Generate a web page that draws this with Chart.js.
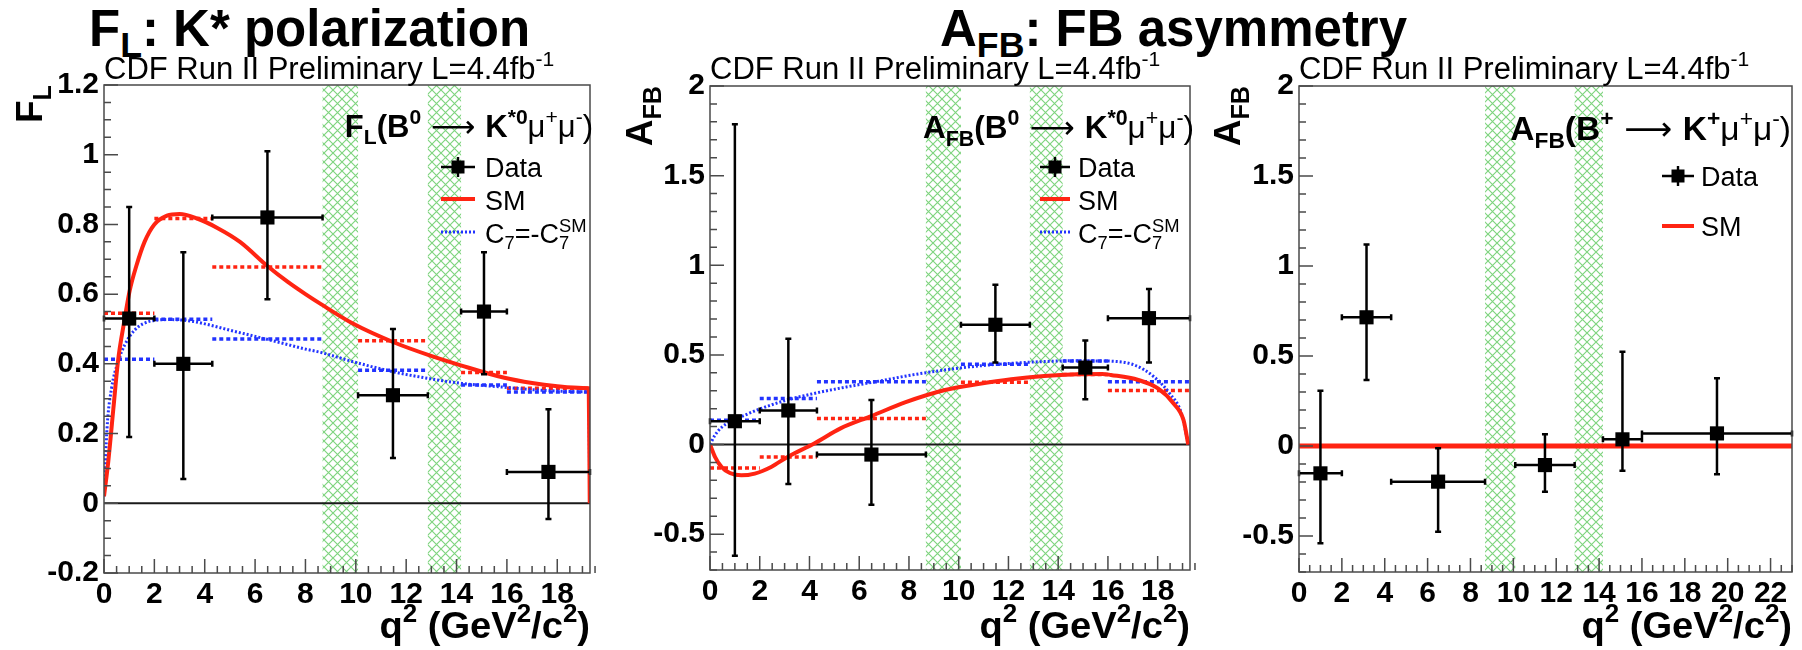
<!DOCTYPE html>
<html>
<head>
<meta charset="utf-8">
<script src="https://cdn.jsdelivr.net/npm/chart.js@4.4.1/dist/chart.umd.min.js"></script>
<style>
  html, body { margin: 0; padding: 0; background: #fff; }
  body { width: 1802px; height: 650px; position: relative; overflow: hidden;
         font-family: 'Liberation Sans', Arial, Helvetica, sans-serif; }
  .pane { position: absolute; top: 0; height: 650px; }
  .headline { position: absolute; font-weight: bold; font-size: 51px; line-height: 51px;
              color: #000; white-space: nowrap; }
  .headline sub { font-size: 70%; vertical-align: -11px; line-height: 0; }
</style>
</head>
<body>
<div class="headline" style="left:89px; top:3px;">F<sub>L</sub>: K* polarization</div>
<div class="headline" style="left:940px; top:3px;">A<sub>FB</sub>: FB asymmetry</div>
<div class="pane" style="left:0px; width:600px;"><canvas id="fl"></canvas></div>
<div class="pane" style="left:600px; width:600px;"><canvas id="afbKst"></canvas></div>
<div class="pane" style="left:1200px; width:602px;"><canvas id="afbK"></canvas></div>
<script>
const FONT = "'Liberation Sans', Arial, Helvetica, sans-serif";

// ---- q² binning (GeV²/c²) ----
const binLo     = [0.0, 2.0, 4.3, 10.09, 14.18, 16.0];
const binHiKst  = [2.0, 4.3, 8.68, 12.86, 16.0, 19.3];
const binHiK    = [2.0, 4.3, 8.68, 12.86, 16.0, 23.0];
const binMidKst = [1.0, 3.15, 6.49, 11.475, 15.09, 17.65];
const binMidK   = [1.0, 3.15, 6.49, 11.475, 15.09, 19.5];

// charmonium veto windows (J/psi, psi(2S))
const vetoLo = [8.68, 12.86];
const vetoHi = [10.09, 14.18];

// ---- F_L(B0 -> K*0 mu mu) ----
const flVal   = [0.53, 0.40, 0.82, 0.31, 0.55, 0.09];
const flErrUp = [0.32, 0.32, 0.19, 0.19, 0.17, 0.18];
const flErrDn = [0.34, 0.33, 0.235, 0.18, 0.18, 0.135];
const flSmBin   = [0.545, 0.817, 0.678, 0.466, 0.375, 0.330];
const flFlipBin = [0.413, 0.528, 0.471, 0.382, 0.339, 0.319];
const flSmQ = [0, 0.17, 0.37, 0.56, 0.8, 1.02, 1.28, 1.61, 2.0, 2.5, 3.0, 3.7, 4.5, 5.4, 6.5, 7.3, 8.0, 8.6, 9.9, 11.5, 12.9, 14.2, 15.9, 17.0, 18.0, 19.0, 19.25, 19.29];
const flSmV = [0.02, 0.12, 0.27, 0.41, 0.52, 0.61, 0.68, 0.75, 0.80, 0.825, 0.83, 0.817, 0.79, 0.75, 0.68, 0.635, 0.60, 0.572, 0.515, 0.462, 0.425, 0.395, 0.36, 0.345, 0.336, 0.331, 0.33, 0.0];
const flFlipQ = [0, 0.12, 0.3, 0.56, 0.82, 1.22, 1.87, 2.65, 3.44, 4.22, 5.14, 6.05, 7.1, 7.9, 8.6, 9.9, 11.5, 12.9, 14.2, 15.9, 17.0, 18.0, 19.0, 19.25, 19.29];
const flFlipV = [0.02, 0.215, 0.33, 0.406, 0.454, 0.497, 0.523, 0.527, 0.523, 0.511, 0.494, 0.478, 0.459, 0.444, 0.433, 0.406, 0.377, 0.358, 0.344, 0.333, 0.326, 0.322, 0.32, 0.32, 0.0];

// ---- A_FB(B0 -> K*0 mu mu) ----
const afbKstVal   = [0.13, 0.19, -0.056, 0.668, 0.429, 0.705];
const afbKstErrUp = [1.657, 0.40, 0.304, 0.223, 0.151, 0.162];
const afbKstErrDn = [0.75, 0.41, 0.28, 0.211, 0.176, 0.248];
const afbKstSmBin   = [-0.131, -0.069, 0.145, 0.347, 0.39, 0.302];
const afbKstFlipBin = [0.136, 0.257, 0.35, 0.448, 0.466, 0.35];
const afbKstSmQ = [0, 0.2, 0.46, 0.8, 1.26, 1.8, 2.46, 3.12, 4.19, 5.25, 6.51, 7.84, 9.45, 10.78, 12.11, 13.44, 14.77, 15.77, 16.12, 17.22, 18.01, 18.64, 19.04, 19.23];
const afbKstSmV = [0, -0.069, -0.125, -0.159, -0.172, -0.162, -0.125, -0.069, 0.006, 0.09, 0.16, 0.235, 0.304, 0.337, 0.364, 0.382, 0.392, 0.394, 0.388, 0.36, 0.313, 0.229, 0.136, 0.0];
const afbKstFlipQ = [0, 0.2, 0.46, 0.86, 1.4, 2.06, 2.99, 4.19, 5.52, 6.85, 8.12, 9.45, 10.78, 12.11, 13.44, 14.77, 15.77, 16.12, 17.06, 17.85, 18.48, 18.96, 19.23];
const afbKstFlipV = [0, 0.052, 0.095, 0.13, 0.164, 0.201, 0.244, 0.285, 0.322, 0.355, 0.388, 0.416, 0.438, 0.453, 0.463, 0.468, 0.466, 0.465, 0.444, 0.378, 0.285, 0.173, 0.0];

// ---- A_FB(B+ -> K+ mu mu) ----
const afbKVal   = [-0.152, 0.715, -0.198, -0.106, 0.037, 0.07];
const afbKErrUp = [0.459, 0.405, 0.185, 0.171, 0.487, 0.306];
const afbKErrDn = [0.388, 0.348, 0.278, 0.148, 0.174, 0.227];
const afbKSmQ = [0, 23];
const afbKSmV = [0, 0];

// ---- axis ticks ----
const xTicksKst = [0, 2, 4, 6, 8, 10, 12, 14, 16, 18];
const xTicksK   = [0, 2, 4, 6, 8, 10, 12, 14, 16, 18, 20, 22];
const yTicksFl  = [-0.2, 0, 0.2, 0.4, 0.6, 0.8, 1, 1.2];
const yTicksAfb = [-0.5, 0, 0.5, 1, 1.5, 2];

const RED = '#ff2412';
const BLUE = '#2233ff';
const YW = 90, XH = 50;

function pts(xs, ys) { return xs.map((x, i) => ({ x, y: ys[i] })); }
function steps(lo, hi, v) {
  const out = [];
  lo.forEach((l, i) => { out.push({ x: l, y: v[i] }, { x: hi[i], y: v[i] }, { x: hi[i], y: null }); });
  return out;
}
function curve(data, color, width, dash, order) {
  return { data, borderColor: color, borderWidth: width, borderDash: dash, pointRadius: 0,
           pointHitRadius: 0, fill: false, cubicInterpolationMode: 'monotone', order };
}
function binned(data, color, order) {
  return { data, borderColor: color, borderWidth: 3.5, borderDash: [4, 3], pointRadius: 0,
           pointHitRadius: 0, fill: false, spanGaps: false, tension: 0, order };
}
function marks(xs, ys, up, dn, lo, hi) {
  return { data: pts(xs, ys), showLine: false, pointStyle: 'rect', pointRadius: 10, pointHoverRadius: 10,
           backgroundColor: '#000', borderColor: '#000', pointBorderWidth: 0, order: 0,
           errUp: up, errDn: dn, xLo: lo, xHi: hi };
}

// ---- rich text with sub/superscripts ----
function partFont(p, size) {
  const s = p.pos ? size * 0.68 : size;
  return (p.b ? 'bold ' : '') + s.toFixed(1) + 'px ' + (p.f || FONT);
}
function richLayout(ctx, parts, size) {
  let x = 0, last = 0; const items = [];
  for (const p of parts) {
    const font = partFont(p, size);
    ctx.font = font;
    const w = ctx.measureText(p.t).width;
    const start = p.stack ? last : x;
    const dy = p.pos === 'sub' ? size * 0.24 : p.pos === 'sup' ? -size * 0.42 : 0;
    items.push({ t: p.t, x: start, dy, font });
    last = start;
    x = Math.max(x, start + w);
  }
  return { items, width: x };
}
function drawRich(ctx, parts, x, y, size, align, sx) {
  sx = sx || 1;
  ctx.save();
  ctx.fillStyle = '#000'; ctx.textBaseline = 'alphabetic'; ctx.textAlign = 'left';
  const L = richLayout(ctx, parts, size);
  const x0 = align === 'right' ? x - L.width * sx : x;
  ctx.translate(x0, y);
  ctx.scale(sx, 1);
  for (const it of L.items) { ctx.font = it.font; ctx.fillText(it.t, it.x, it.dy); }
  ctx.restore();
}

function hatch(ctx) {
  const n = 9;
  const c = document.createElement('canvas'); c.width = n; c.height = n;
  const g = c.getContext('2d');
  g.strokeStyle = '#7ed47e'; g.lineWidth = 1.15;
  g.beginPath();
  g.moveTo(-1, -1); g.lineTo(n + 1, n + 1);
  g.moveTo(n + 1, -1); g.lineTo(-1, n + 1);
  g.stroke();
  return ctx.createPattern(c, 'repeat');
}

function axisTicks(ctx, scale, major, step, horizontal, a) {
  const n = Math.round((scale.max - scale.min) / step);
  ctx.beginPath();
  for (let i = 0; i <= n; i++) {
    const v = scale.min + i * step;
    const isMajor = major.some(m => Math.abs(m - v) < 1e-6);
    const len = isMajor ? 14 : 7;
    const p = scale.getPixelForValue(v);
    if (horizontal) { ctx.moveTo(p, a.bottom); ctx.lineTo(p, a.bottom - len); }
    else { ctx.moveTo(a.left, p); ctx.lineTo(a.left + len, p); }
  }
  ctx.stroke();
}

const B = (t, pos) => ({ t, b: true, pos });
const R = (t, pos) => ({ t, b: false, pos });
const arrow = pad => ({ t: pad + '\u27f6' + pad, b: false, f: "'DejaVu Sans', " + FONT });
const Q2 = [B('q'), B('2', 'sup'), B(' (GeV'), B('2', 'sup'), B('/c'), B('2', 'sup'), B(')')];
const CDF = [R('CDF Run II Preliminary L=4.4fb'), R('-1', 'sup')];
const C7 = [R('C'), R('7', 'sub'), R('=-C'), R('7', 'sub'), { t: 'SM', b: false, pos: 'sup', stack: true }];

const DECOR = {
  fl: {
    zeroLine: true, xMajor: xTicksKst, yMajor: yTicksFl, xMinor: 0.5, yMinor: 0.05,
    yTitle: [B('F'), B('L', 'sub')], yTitleX: 42,
    legendTitle: [B('F'), B('L', 'sub'), B('(B'), B('0', 'sup'), arrow(' '), B('K'), B('*0', 'sup'),
                  R('\u03bc'), R('+', 'sup'), R('\u03bc'), R('-', 'sup'), R(')')],
    legendTitleRight: 593, legendTitleY: 137, legendSize: 31,
    symX0: 441, symX1: 475, textX: 485,
    entries: [
      { kind: 'data', y: 167, base: 177, parts: [R('Data')] },
      { kind: 'sm', y: 199, base: 210, parts: [R('SM')] },
      { kind: 'flip', y: 232, base: 243, parts: C7 }
    ]
  },
  afbKst: {
    zeroLine: true, xMajor: xTicksKst, yMajor: yTicksAfb, xMinor: 0.5, yMinor: 0.1,
    yTitle: [B('A'), B('FB', 'sub')], yTitleX: 52,
    legendTitle: [B('A'), B('FB', 'sub'), B('(B'), B('0', 'sup'), arrow(' '), B('K'), B('*0', 'sup'),
                  R('\u03bc'), R('+', 'sup'), R('\u03bc'), R('-', 'sup'), R(')')],
    legendTitleRight: 594, legendTitleY: 138, legendSize: 31.5,
    symX0: 440, symX1: 470, textX: 478,
    entries: [
      { kind: 'data', y: 167, base: 177, parts: [R('Data')] },
      { kind: 'sm', y: 199, base: 210, parts: [R('SM')] },
      { kind: 'flip', y: 232, base: 243, parts: C7 }
    ]
  },
  afbK: {
    zeroLine: false, xMajor: xTicksK, yMajor: yTicksAfb, xMinor: 0.5, yMinor: 0.1,
    yTitle: [B('A'), B('FB', 'sub')], yTitleX: 40,
    legendTitle: [B('A'), B('FB', 'sub'), B('(B'), B('+', 'sup'), arrow(' '), B('K'), B('+', 'sup'),
                  R('\u03bc'), R('+', 'sup'), R('\u03bc'), R('-', 'sup'), R(')')],
    legendTitleRight: 591, legendTitleY: 140, legendSize: 33.5,
    symX0: 462, symX1: 494, textX: 501,
    entries: [
      { kind: 'data', y: 176, base: 186, parts: [R('Data')] },
      { kind: 'sm', y: 226, base: 236, parts: [R('SM')] }
    ]
  }
};

const decorPlugin = {
  id: 'decor',
  beforeDatasetsDraw(chart) {
    const d = DECOR[chart.canvas.id];
    const { ctx, chartArea: a, scales: { x, y } } = chart;
    ctx.save();
    ctx.beginPath(); ctx.rect(a.left, a.top, a.width, a.height); ctx.clip();
    ctx.fillStyle = hatch(ctx);
    vetoLo.forEach((lo, i) => {
      const x1 = x.getPixelForValue(lo), x2 = x.getPixelForValue(vetoHi[i]);
      ctx.fillRect(x1, a.top, x2 - x1, a.height);
    });
    if (d.zeroLine) {
      const y0 = y.getPixelForValue(0);
      ctx.strokeStyle = '#1a1a1a'; ctx.lineWidth = 2;
      ctx.beginPath(); ctx.moveTo(a.left, y0); ctx.lineTo(a.right, y0); ctx.stroke();
    }
    ctx.restore();
  },
  afterDraw(chart) {
    const d = DECOR[chart.canvas.id];
    const { ctx, chartArea: a, scales: { x, y } } = chart;
    ctx.save();
    // frame and inward ticks
    ctx.strokeStyle = '#4a4a4a'; ctx.lineWidth = 1.5;
    ctx.strokeRect(a.left, a.top, a.width, a.height);
    axisTicks(ctx, x, d.xMajor, d.xMinor, true, a);
    axisTicks(ctx, y, d.yMajor, d.yMinor, false, a);
    // header and axis titles
    drawRich(ctx, CDF, a.left, 79, 31, 'left');
    drawRich(ctx, Q2, a.right, 638, 37, 'right', 1.03);
    ctx.save();
    ctx.translate(d.yTitleX, a.top);
    ctx.rotate(-Math.PI / 2);
    drawRich(ctx, d.yTitle, 0, 0, 37, 'right');
    ctx.restore();
    // legend
    drawRich(ctx, d.legendTitle, d.legendTitleRight, d.legendTitleY, d.legendSize, 'right');
    const cx = (d.symX0 + d.symX1) / 2;
    for (const e of d.entries) {
      if (e.kind === 'data') {
        ctx.strokeStyle = '#000'; ctx.lineWidth = 2.4;
        ctx.beginPath();
        ctx.moveTo(d.symX0, e.y); ctx.lineTo(d.symX1, e.y);
        ctx.moveTo(cx, e.y - 10); ctx.lineTo(cx, e.y + 10);
        ctx.stroke();
        ctx.fillStyle = '#000'; ctx.fillRect(cx - 6.5, e.y - 6.5, 13, 13);
      } else {
        ctx.strokeStyle = e.kind === 'sm' ? RED : BLUE;
        ctx.lineWidth = e.kind === 'sm' ? 4 : 3;
        ctx.setLineDash(e.kind === 'sm' ? [] : [2, 2]);
        ctx.beginPath(); ctx.moveTo(d.symX0, e.y); ctx.lineTo(d.symX1, e.y); ctx.stroke();
        ctx.setLineDash([]);
      }
      drawRich(ctx, e.parts, d.textX, e.base, 27, 'left');
    }
    ctx.restore();
  }
};

const errorBarPlugin = {
  id: 'errorBars',
  beforeDatasetDraw(chart, args) {
    const ds = chart.data.datasets[args.index];
    if (!ds.errUp) return;
    const { ctx, scales: { x, y } } = chart;
    ctx.save();
    ctx.strokeStyle = '#000'; ctx.lineWidth = 2.5;
    ctx.beginPath();
    ds.data.forEach((p, i) => {
      const px = x.getPixelForValue(p.x), py = y.getPixelForValue(p.y);
      const y1 = y.getPixelForValue(p.y + ds.errUp[i]), y2 = y.getPixelForValue(p.y - ds.errDn[i]);
      const x1 = x.getPixelForValue(ds.xLo[i]), x2 = x.getPixelForValue(ds.xHi[i]);
      const c = 3;
      ctx.moveTo(px, y1); ctx.lineTo(px, y2);
      ctx.moveTo(x1, py); ctx.lineTo(x2, py);
      ctx.moveTo(px - c, y1); ctx.lineTo(px + c, y1);
      ctx.moveTo(px - c, y2); ctx.lineTo(px + c, y2);
      ctx.moveTo(x1, py - c); ctx.lineTo(x1, py + c);
      ctx.moveTo(x2, py - c); ctx.lineTo(x2, py + c);
    });
    ctx.stroke();
    ctx.restore();
  }
};

const fmt = v => String(Math.round(v * 100) / 100);

function makePanel(id, width, area, xr, yr, xTicks, yTicks, datasets) {
  return new Chart(document.getElementById(id), {
    type: 'line',
    data: { datasets },
    options: {
      responsive: true, maintainAspectRatio: false, animation: false, devicePixelRatio: 1, events: [],
      layout: { padding: { left: area.left - YW, top: area.top, right: width - area.right,
                           bottom: 650 - area.bottom - XH } },
      plugins: { legend: { display: false }, tooltip: { enabled: false }, title: { display: false } },
      scales: {
        x: {
          type: 'linear', position: 'bottom', min: xr[0], max: xr[1],
          afterBuildTicks: s => { s.ticks = xTicks.map(v => ({ value: v })); },
          afterFit: s => { s.height = XH; },
          grid: { display: false, drawTicks: false }, border: { display: false },
          ticks: { color: '#000', padding: 4, maxRotation: 0, autoSkip: false, callback: fmt,
                   font: { family: FONT, size: 30, weight: 'bold' } }
        },
        y: {
          type: 'linear', position: 'left', min: yr[0], max: yr[1],
          afterBuildTicks: s => { s.ticks = yTicks.map(v => ({ value: v })); },
          afterFit: s => { s.width = YW; },
          grid: { display: false, drawTicks: false }, border: { display: false },
          ticks: { color: '#000', padding: 5, autoSkip: false, callback: fmt,
                   font: { family: FONT, size: 30, weight: 'bold' } }
        }
      }
    },
    plugins: [decorPlugin, errorBarPlugin]
  });
}

makePanel('fl', 600, { left: 104, right: 596, top: 85, bottom: 573 }, [0, 19.3], [-0.2, 1.2],
  xTicksKst, yTicksFl, [
    marks(binMidKst, flVal, flErrUp, flErrDn, binLo, binHiKst),
    curve(pts(flSmQ, flSmV), RED, 4, [], 2),
    curve(pts(flFlipQ, flFlipV), BLUE, 3, [2, 2], 3),
    binned(steps(binLo, binHiKst, flSmBin), RED, 4),
    binned(steps(binLo, binHiKst, flFlipBin), BLUE, 5)
  ]);

makePanel('afbKst', 600, { left: 110, right: 594, top: 86, bottom: 570 }, [0, 19.3], [-0.7, 2],
  xTicksKst, yTicksAfb, [
    marks(binMidKst, afbKstVal, afbKstErrUp, afbKstErrDn, binLo, binHiKst),
    curve(pts(afbKstSmQ, afbKstSmV), RED, 4, [], 2),
    curve(pts(afbKstFlipQ, afbKstFlipV), BLUE, 3, [2, 2], 3),
    binned(steps(binLo, binHiKst, afbKstSmBin), RED, 4),
    binned(steps(binLo, binHiKst, afbKstFlipBin), BLUE, 5)
  ]);

makePanel('afbK', 602, { left: 99, right: 593, top: 86, bottom: 572 }, [0, 23], [-0.7, 2],
  xTicksK, yTicksAfb, [
    marks(binMidK, afbKVal, afbKErrUp, afbKErrDn, binLo, binHiK),
    curve(pts(afbKSmQ, afbKSmV), RED, 5, [], 2)
  ]);
</script>
</body>
</html>
